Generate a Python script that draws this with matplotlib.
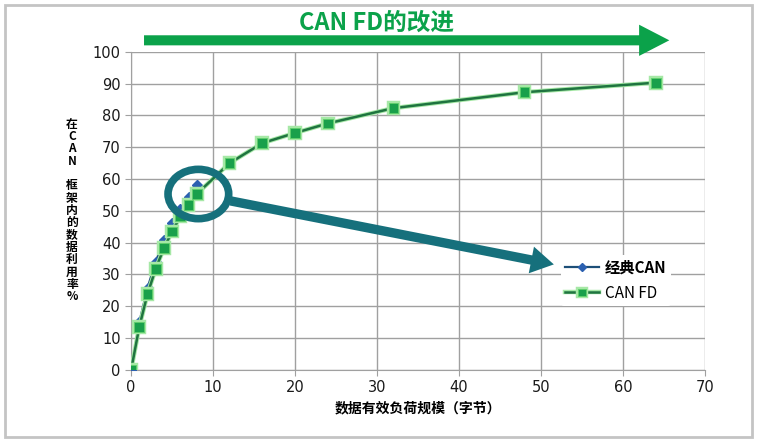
import matplotlib
matplotlib.use("Agg")
import matplotlib.pyplot as plt
import matplotlib.patheffects as pe
from matplotlib.patches import Ellipse, Rectangle

plt.rcParams['font.family'] = ['Noto Sans CJK SC', 'DejaVu Sans']

# data
payload_classic = [0, 1, 2, 3, 4, 5, 6, 7, 8]
eff_classic = [0, 15, 25.8, 34, 40.8, 46.3, 50.5, 54.5, 58.2]
payload_fd = [0, 1, 2, 3, 4, 5, 6, 7, 8, 12, 16, 20, 24, 32, 48, 64]
eff_fd = [0, 13.6, 23.9, 31.8, 38.3, 43.5, 48.2, 51.9, 55.3, 65, 71.3, 74.5, 77.5, 82.3, 87.3, 90.3]

x_ticks = [0, 10, 20, 30, 40, 50, 60, 70]
y_ticks = [0, 10, 20, 30, 40, 50, 60, 70, 80, 90, 100]

title = "CAN FD的改进"
xlabel = "数据有效负荷规模（字节）"
ylabel = "在CAN 框架内的数据利用率%"

green = "#0ba24a"
teal = "#16707c"

fig = plt.figure(figsize=(7.58, 4.43), dpi=100)
ax = fig.add_axes([0.173, 0.165, 0.757, 0.718])

# classic CAN first, CAN FD drawn on top
ax.plot(payload_classic, eff_classic, color="#1d4f78", lw=1.6,
        marker="D", markersize=5, markerfacecolor="#2b60b0",
        markeredgecolor="#2b60b0", label="经典CAN", zorder=3)
ax.plot(payload_fd, eff_fd, color="#1f7440", lw=1.8,
        marker="s", markersize=7, markerfacecolor="#19a04b",
        markeredgecolor="#5fcf6a", markeredgewidth=0.6, label="CAN FD",
        path_effects=[pe.Stroke(linewidth=3.2, foreground="#a6e8a6"), pe.Normal()],
        zorder=4)

ax.set_xlim(0, 70)
ax.set_ylim(0, 100)
ax.set_xticks(x_ticks)
ax.set_yticks(y_ticks)
ax.grid(True, color="#a0a0a0", lw=1.0)
ax.set_axisbelow(True)
for s in ["top", "right"]:
    ax.spines[s].set_visible(False)
for s in ["left", "bottom"]:
    ax.spines[s].set_color("#a0a0a0")
ax.tick_params(colors="#a0a0a0", labelcolor="#1a1a1a", length=4)
for lab in ax.get_xticklabels() + ax.get_yticklabels():
    lab.set_family(["Liberation Sans Narrow", "DejaVu Sans"])
    lab.set_fontsize(10.5)

ax.set_xlabel(xlabel, fontsize=10, fontweight="bold", labelpad=4)
fig.text(0.095, 0.525, "\n".join(ylabel), fontsize=8.5, fontweight="bold",
         ha="center", va="center", linespacing=0.93)

leg = ax.legend(loc="upper left", bbox_to_anchor=(0.735, 0.385), frameon=True,
                edgecolor="none", facecolor="white", framealpha=1,
                fontsize=11, handlelength=2.2, borderpad=0.3, markerscale=0.75,
                labelspacing=0.6, handletextpad=0.4)
leg.get_texts()[0].set_fontweight("bold")
leg.set_zorder(6)

# teal magnifier and arrow
ax.add_patch(Ellipse((8.2, 55.3), 7.4, 15.5, fill=False, ec=teal, lw=5.5,
                     clip_on=False, zorder=7))
ax.annotate("", xy=(51.9, 33.0), xytext=(11.8, 53.3),
            arrowprops=dict(arrowstyle="simple,head_width=1.3,head_length=1.1,tail_width=0.45",
                            mutation_scale=15, color=teal, lw=0),
            annotation_clip=False, zorder=7)

# green title arrow
fig.text(0.497, 0.948, title, color=green, fontsize=17, fontweight="bold",
         ha="center", va="center")
ax.annotate("", xy=(0.883, 0.909), xytext=(0.19, 0.909),
            xycoords="figure fraction", textcoords="figure fraction",
            arrowprops=dict(arrowstyle="simple,head_width=1.55,head_length=1.5,tail_width=0.5",
                            mutation_scale=14.5, color=green, lw=0,
                            shrinkA=0, shrinkB=0))

# grey frame around the picture
fig.patches.append(Rectangle((0.006, 0.013), 0.986, 0.975, transform=fig.transFigure,
                             fill=False, ec="#c4c4c4", lw=2))

fig.savefig("out.png", dpi=100)
